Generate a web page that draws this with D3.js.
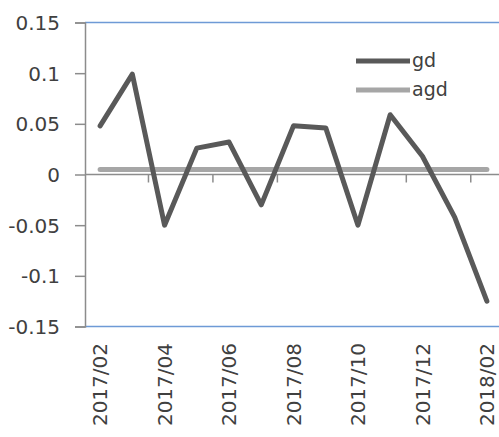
<!DOCTYPE html>
<html>
<head>
<meta charset="utf-8">
<script src="https://cdn.jsdelivr.net/npm/d3@7"></script>
<style>
  html, body { margin: 0; padding: 0; background: #fff; overflow: hidden; }
  svg { display: block; }
  text { font-family: "DejaVu Sans", sans-serif; fill: #404040; }
</style>
</head>
<body>
<svg id="chart" width="499" height="437"></svg>
<script>
// Monthly categories
const months = ["2017/02", "2017/03", "2017/04", "2017/05", "2017/06", "2017/07",
                "2017/08", "2017/09", "2017/10", "2017/11", "2017/12", "2018/01", "2018/02"];
// Series values
const gd  = [0.048, 0.099, -0.050, 0.026, 0.032, -0.030, 0.048, 0.046, -0.050, 0.059, 0.018, -0.042, -0.125];
const agd = [0.005, 0.005, 0.005, 0.005, 0.005, 0.005, 0.005, 0.005, 0.005, 0.005, 0.005, 0.005, 0.005];
// Axis tick values and their labels
const yTicks = [0.15, 0.1, 0.05, 0, -0.05, -0.1, -0.15];
const yTickLabels = ["0.15", "0.1", "0.05", "0", "-0.05", "-0.1", "-0.15"];
const seriesNames = ["gd", "agd"];
const seriesColors = ["#595959", "#a6a6a6"];

const svg = d3.select("#chart");
const plotLeft = 85, plotRight = 503, plotTop = 22.5, plotBottom = 326.5;

const x = d3.scaleBand().domain(months).range([plotLeft - 1, plotRight]).paddingInner(0).paddingOuter(0);
const cx = d => x(d) + x.bandwidth() / 2;
const y = d3.scaleLinear().domain([-0.15, 0.15]).range([plotBottom, plotTop]);

// Plot area borders (top and bottom)
svg.append("g").selectAll("line").data([0.15, -0.15]).join("line")
  .attr("x1", plotLeft).attr("x2", 499)
  .attr("y1", d => y(d)).attr("y2", d => y(d))
  .attr("stroke", "#6e9ad6").attr("stroke-width", 1.5);

// Y axis
const yAxis = svg.append("g").attr("transform", `translate(${plotLeft},0)`)
  .call(d3.axisLeft(y).tickValues(yTicks).tickSize(10).tickFormat((d, i) => yTickLabels[i]));
yAxis.select(".domain").attr("stroke", "#8c8c8c").attr("stroke-width", 1.5);
yAxis.selectAll(".tick line").attr("stroke", "#8c8c8c").attr("stroke-width", 1.5);
yAxis.selectAll(".tick text")
  .attr("x", -25).attr("dy", "0.35em")
  .style("font-size", "20px").style("font-family", "DejaVu Sans, sans-serif").attr("fill", "#404040");

// X axis along zero, ticks between every second category
const labelled = months.filter((d, i) => i % 2 === 0);
const xAxisG = svg.append("g");
xAxisG.append("line")
  .attr("x1", plotLeft).attr("x2", 499)
  .attr("y1", y(0)).attr("y2", y(0))
  .attr("stroke", "#8c8c8c").attr("stroke-width", 1.5);
xAxisG.selectAll("line.tick").data(labelled.slice(1)).join("line")
  .attr("class", "tick")
  .attr("x1", d => x(d)).attr("x2", d => x(d))
  .attr("y1", y(0)).attr("y2", y(0) + 8)
  .attr("stroke", "#8c8c8c").attr("stroke-width", 1.5);

// Category labels, rotated
svg.append("g").selectAll("text").data(labelled).join("text")
  .attr("transform", d => `translate(${cx(d)},343) rotate(-90)`)
  .attr("text-anchor", "end")
  .attr("dy", "0.36em")
  .style("font-size", "20px")
  .text(d => d);

// Series lines (agd first so gd sits on top)
const line = d3.line().x((d, i) => cx(months[i])).y(d => y(d));
[[agd, seriesColors[1]], [gd, seriesColors[0]]].forEach(([vals, color]) => {
  svg.append("path")
    .datum(vals)
    .attr("d", line)
    .attr("fill", "none")
    .attr("stroke", color)
    .attr("stroke-width", 5)
    .attr("stroke-linejoin", "round")
    .attr("stroke-linecap", "round");
});

// Legend
const legend = svg.append("g");
seriesNames.forEach((name, i) => {
  const ly = 61 + i * 29;
  legend.append("line")
    .attr("x1", 356).attr("x2", 410).attr("y1", ly).attr("y2", ly)
    .attr("stroke", seriesColors[i]).attr("stroke-width", 5);
  legend.append("text")
    .attr("x", 412).attr("y", ly).attr("dy", "0.3em")
    .style("font-size", "19px")
    .text(name);
});
</script>
</body>
</html>
